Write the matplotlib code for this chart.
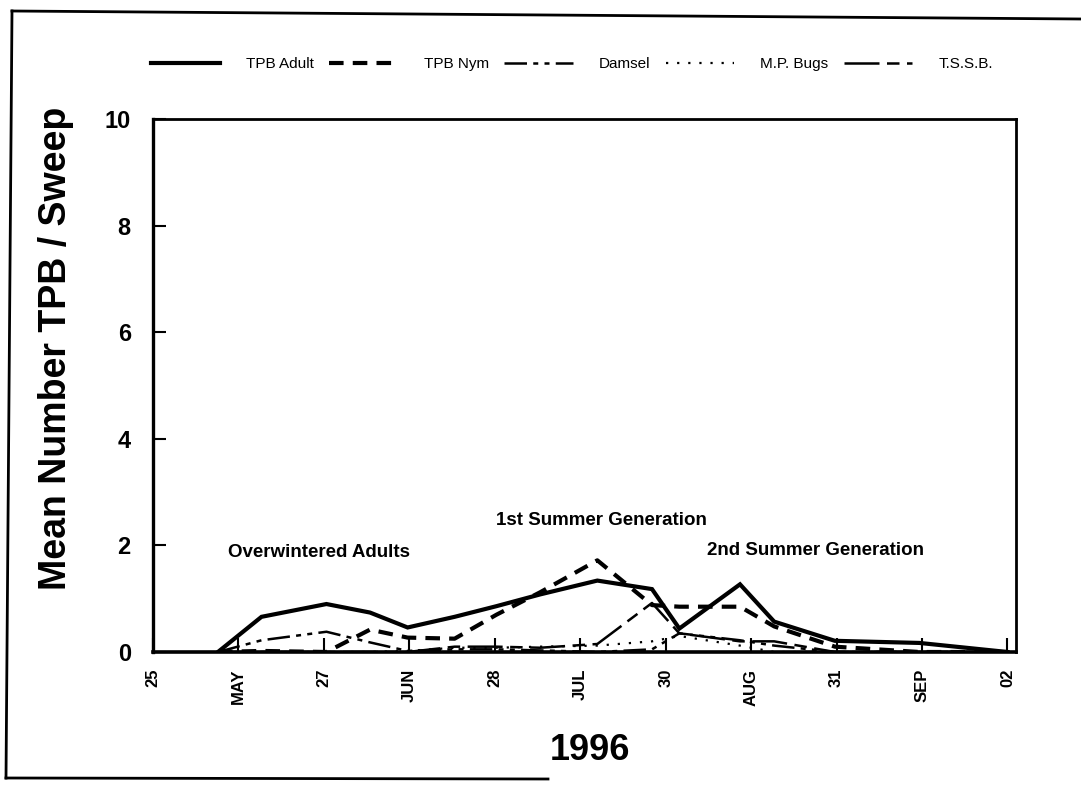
import matplotlib
matplotlib.use("Agg")
import matplotlib.pyplot as plt
from matplotlib import font_manager
from matplotlib.lines import Line2D

# Prefer a condensed sans face when one is installed
_names = {f.name for f in font_manager.fontManager.ttflist}
FACE = "Liberation Sans Narrow" if "Liberation Sans Narrow" in _names else "Liberation Sans"
plt.rcParams["font.family"] = [FACE, "DejaVu Sans"]

# ---- data -------------------------------------------------------------
tick_labels = ["25", "MAY", "27", "JUN", "28", "JUL", "30", "AUG", "31", "SEP", "02"]
sample_pos = [0.76, 1.27, 2.03, 2.54, 2.98, 3.53, 4.02, 4.53, 5.20, 5.84,
              6.16, 6.87, 7.27, 7.98, 8.97, 10.0]

tpb_adult = [0.00, 0.66, 0.90, 0.74, 0.46, 0.66, 0.86, 1.08, 1.34, 1.18,
             0.44, 1.27, 0.57, 0.21, 0.17, 0.00]
tpb_nym   = [0.00, 0.02, 0.00, 0.42, 0.27, 0.25, 0.70, 1.12, 1.72, 0.88,
             0.85, 0.85, 0.48, 0.10, 0.00, 0.00]
damsel    = [0.00, 0.22, 0.38, 0.18, 0.02, 0.05, 0.05, 0.03, 0.00, 0.05,
             0.35, 0.22, 0.12, 0.00, 0.00, 0.00]
mp_bugs   = [0.00, 0.00, 0.00, 0.00, 0.02, 0.08, 0.08, 0.10, 0.12, 0.20,
             0.30, 0.12, 0.00, 0.00, 0.00, 0.00]
tssb      = [0.00, 0.00, 0.00, 0.00, 0.00, 0.10, 0.10, 0.08, 0.15, 0.92,
             0.35, 0.20, 0.20, 0.00, 0.00, 0.00]

series_names = ["TPB Adult", "TPB Nym", "Damsel", "M.P. Bugs", "T.S.S.B."]

phases = ["Overwintered Adults", "1st Summer Generation", "2nd Summer Generation"]
phase_x = [0.88, 4.02, 6.48]
phase_y = [1.86, 2.46, 1.91]

# ---- figure -----------------------------------------------------------
W, H = 1081, 789
fig = plt.figure(figsize=(W / 100, H / 100), dpi=100)
ax = fig.add_axes([153 / W, 1 - 652 / H, (1016 - 153) / W, (652 - 119) / H])

styles = [
    dict(lw=3.0, ls="-"),
    dict(lw=3.0, ls=(0, (3.5, 2.2))),
    dict(lw=1.8, ls=(0, (9, 2.5, 2, 2.5, 2, 2.5))),
    dict(lw=1.6, ls=(0, (1, 4))),
    dict(lw=1.8, ls=(0, (14, 3, 5, 3))),
]
all_series = [tpb_adult, tpb_nym, damsel, mp_bugs, tssb]
handles = []
for vals, st, name in zip(all_series, styles, series_names):
    (ln,) = ax.plot(sample_pos, vals, color="black", linewidth=st["lw"],
                    linestyle=st["ls"], label=name, solid_joinstyle="miter")
    handles.append(ln)

ax.set_xlim(0, 10.1)
ax.set_ylim(0, 10)
ax.set_xticks(range(len(tick_labels)))
ax.set_xticklabels(tick_labels, rotation=90, fontsize=12, fontweight="bold")
ax.set_yticks([0, 2, 4, 6, 8, 10])
ax.set_yticklabels(["0", "2", "4", "6", "8", "10"], fontsize=17, fontweight="bold")
ax.tick_params(axis="x", direction="in", length=10, width=1.5, pad=12)
ax.tick_params(axis="y", direction="in", length=9, width=1.5, pad=16)
for s in ax.spines.values():
    s.set_linewidth(2.0)
ax.spines["bottom"].set_linewidth(2.6)
ax.spines["left"].set_linewidth(2.4)

ax.set_ylabel("Mean Number TPB / Sweep", fontsize=27, fontweight="bold")
ax.yaxis.set_label_coords(-0.092, 0.57)
ax.set_xlabel("1996", fontsize=26, fontweight="bold")
ax.xaxis.set_label_coords(0.506, -0.152)

for txt, x, y in zip(phases, phase_x, phase_y):
    ax.text(x, y, txt, fontsize=13.5, fontweight="bold", ha="left", va="center")

fig.legend(handles=handles, labels=series_names, loc="center left",
           bbox_to_anchor=(151 / W, 1 - 64 / H), ncol=5, frameon=False,
           fontsize=11, handlelength=4.5, handletextpad=1.7, columnspacing=1.0,
           borderaxespad=0, borderpad=0)

# page frame around the chart
frame = dict(color="black", linewidth=2.0, transform=fig.transFigure)
fig.add_artist(Line2D([12 / W, 1.0], [1 - 11 / H, 1 - 19 / H], **frame))
fig.add_artist(Line2D([12 / W, 6 / W], [1 - 11 / H, 1 - 778 / H], **frame))
fig.add_artist(Line2D([6 / W, 548 / W], [1 - 778 / H, 1 - 779 / H], **frame))

fig.savefig("out.png", dpi=100)
